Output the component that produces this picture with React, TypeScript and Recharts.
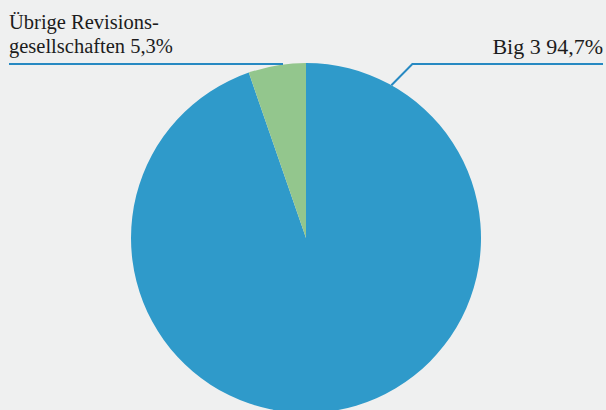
import { PieChart, Pie, Cell } from 'recharts';

const segments = ['Big 3', 'Übrige Revisionsgesellschaften'];
const shares = [94.7, 5.3];
const bigLabel = 'Big 3 94,7%';
const otherLabel = ['Übrige Revisions-', 'gesellschaften 5,3%'];
const colors = ['#2f9aca', '#93c68d'];

const data = segments.map((name, i) => ({ name, value: shares[i] }));

const W = 606;
const H = 410;
const CX = 306;
const CY = 238;
const R = 175;
const lineColor = '#2789c2';
const textStyle = { fontFamily: '"Liberation Serif", "DejaVu Serif", serif', fontSize: 20.5, fill: '#1c1c1c' };

// leader lines and labels, placed from the pie's centre and radius
function Annotations() {
  const top = CY - R + 1;
  const a = (60.8 * Math.PI) / 180;
  const px = CX + R * Math.cos(a);
  const py = CY - R * Math.sin(a);
  return (
    <svg width={W} height={H} style={{ position: 'absolute', left: 0, top: 0 }}>
      <polyline
        points={`${px},${py} ${px + 21},${top} ${W - 3},${top}`}
        fill="none"
        stroke={lineColor}
        strokeWidth={2}
      />
      <text x={W - 3} y={top - 10} textAnchor="end" style={{ ...textStyle, fontSize: 22 }}>
        {bigLabel}
      </text>
      <line x1={9} y1={top} x2={CX - 23} y2={top} stroke={lineColor} strokeWidth={2} />
      <text x={9} y={top - 35} style={textStyle}>
        {otherLabel[0]}
      </text>
      <text x={9} y={top - 11} style={textStyle}>
        {otherLabel[1]}
      </text>
    </svg>
  );
}

export default function App() {
  return (
    <div style={{ position: 'absolute', left: 0, top: 0, width: W, height: H, background: '#eff0f0', overflow: 'hidden' }}>
      <PieChart width={W} height={H} margin={{ top: 0, right: 0, bottom: 0, left: 0 }}>
        <Pie
          data={data}
          dataKey="value"
          nameKey="name"
          cx={CX}
          cy={CY}
          outerRadius={R}
          startAngle={90}
          endAngle={-270}
          stroke="none"
          label={false}
          labelLine={false}
          isAnimationActive={false}
        >
          {data.map((d, i) => (
            <Cell key={d.name} fill={colors[i]} />
          ))}
        </Pie>
      </PieChart>
      <Annotations />
    </div>
  );
}
